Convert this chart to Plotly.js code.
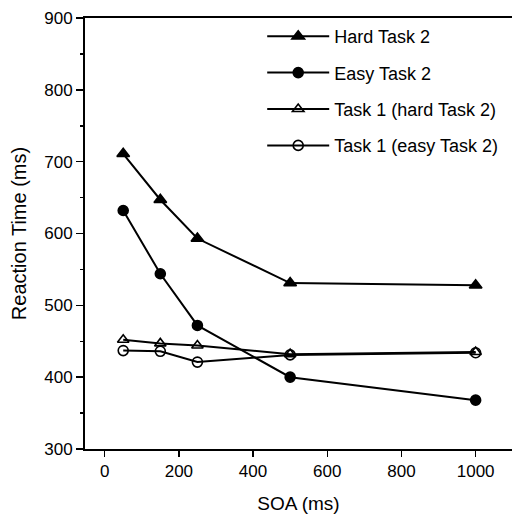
<!DOCTYPE html>
<html>
<head>
<meta charset="utf-8">
<script src="https://cdn.plot.ly/plotly-3.0.1.min.js"></script>
<style>html,body{margin:0;padding:0;background:#fff;}#chart{width:512px;height:514px;}</style>
</head>
<body>
<div id="chart"></div>
<script>
const soa = [50, 150, 250, 500, 1000];
const hardTask2 = [711, 647, 593, 531, 528];
const easyTask2 = [632, 544, 472, 400, 368];
const task1Hard = [452, 447, 444, 432, 435];
const task1Easy = [437, 436, 421, 431, 434];
const seriesNames = ["Hard Task 2", "Easy Task 2", "Task 1 (hard Task 2)", "Task 1 (easy Task 2)"];
const xTicks = [0, 200, 400, 600, 800, 1000];
const yTicks = [300, 400, 500, 600, 700, 800, 900];

const FONT = "Liberation Sans, Arial, Helvetica, sans-serif";
function tr(y, name, symbol, size, grp) {
  return {
    x: soa, y: y, name: name, type: 'scatter', mode: 'lines+markers',
    legendgroup: grp,
    line: {color: '#000', width: 2},
    marker: {symbol: symbol, size: size, color: '#000', line: {color: '#000', width: 1.6}},
    cliponaxis: false
  };
}
const data = [
  tr(hardTask2, seriesNames[0], 'triangle-up', 11, 'a'),
  tr(easyTask2, seriesNames[1], 'circle', 10, 'b'),
  tr(task1Hard, seriesNames[2], 'triangle-up-open', 10, 'c'),
  tr(task1Easy, seriesNames[3], 'circle-open', 10, 'd')
];
const layout = {
  width: 512, height: 514,
  margin: {l: 85, r: 0, t: 18, b: 65},
  paper_bgcolor: '#fff', plot_bgcolor: '#fff',
  font: {family: FONT, color: '#000', size: 17},
  showlegend: true,
  legend: {
    x: 0.415, y: 1.0, xanchor: 'left', yanchor: 'top',
    font: {family: FONT, size: 18, color: '#000'},
    traceorder: 'grouped', tracegroupgap: 10,
    itemwidth: 62, bgcolor: 'rgba(0,0,0,0)', borderwidth: 0
  },
  xaxis: {
    range: [-53, 1098], tickvals: xTicks, ticktext: xTicks.map(String),
    showgrid: false, zeroline: false,
    showline: true, linecolor: '#000', linewidth: 2, mirror: true,
    ticks: 'outside', ticklen: 6, tickwidth: 1.5, tickcolor: '#000',
    tickfont: {family: FONT, size: 17, color: '#000'},
    title: {text: 'SOA (ms)', font: {family: FONT, size: 19, color: '#000'}, standoff: 16}
  },
  yaxis: {
    range: [300, 900], tickvals: yTicks, ticktext: yTicks.map(String),
    showgrid: false, zeroline: false,
    showline: true, linecolor: '#000', linewidth: 2,
    ticks: 'outside', ticklen: 7, tickwidth: 1.5, tickcolor: '#000',
    minor: {ticks: 'outside', ticklen: 3, tickwidth: 1.5, tickcolor: '#000', dtick: 50, showgrid: false},
    tickfont: {family: FONT, size: 17, color: '#000'},
    title: {text: 'Reaction Time (ms)', font: {family: FONT, size: 20, color: '#000'}, standoff: 12}
  }
};
Plotly.newPlot('chart', data, layout, {staticPlot: true, displayModeBar: false});
</script>
</body>
</html>
